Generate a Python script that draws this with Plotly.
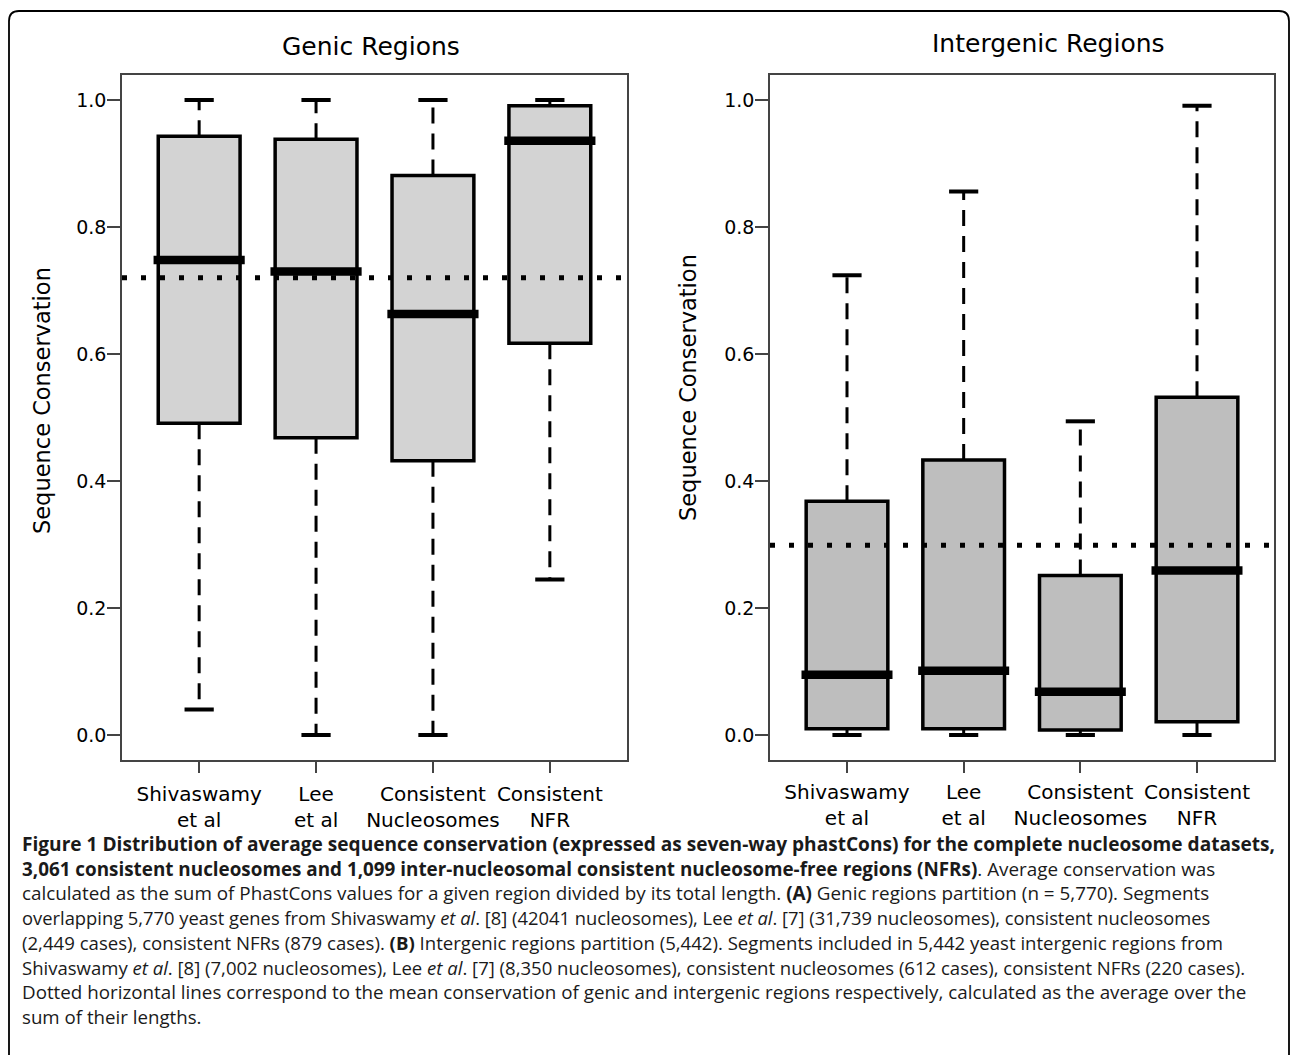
import plotly.graph_objects as go

# ---- data -------------------------------------------------------------
categories = ["Shivaswamy<br>et al", "Lee<br>et al",
              "Consistent<br>Nucleosomes", "Consistent<br>NFR"]
y_ticks = [0.0, 0.2, 0.4, 0.6, 0.8, 1.0]
y_tick_labels = ["0.0", "0.2", "0.4", "0.6", "0.8", "1.0"]

genic_lower = [0.040, 0.000, 0.000, 0.245]
genic_q1 = [0.491, 0.468, 0.432, 0.617]
genic_median = [0.748, 0.730, 0.663, 0.936]
genic_q3 = [0.943, 0.938, 0.881, 0.991]
genic_upper = [1.000, 1.000, 1.000, 1.000]
genic_mean = 0.720

intergenic_lower = [0.000, 0.000, 0.000, 0.000]
intergenic_q1 = [0.010, 0.010, 0.008, 0.021]
intergenic_median = [0.095, 0.101, 0.068, 0.259]
intergenic_q3 = [0.368, 0.433, 0.251, 0.532]
intergenic_upper = [0.724, 0.856, 0.494, 0.991]
intergenic_mean = 0.299

caption_lines = [
    "<b>Figure 1 Distribution of average sequence conservation (expressed as seven-way phastCons) for the complete nucleosome datasets,</b>",
    "<b>3,061 consistent nucleosomes and 1,099 inter-nucleosomal consistent nucleosome-free regions (NFRs)</b>. Average conservation was",
    "calculated as the sum of PhastCons values for a given region divided by its total length. <b>(A)</b> Genic regions partition (n = 5,770). Segments",
    "overlapping 5,770 yeast genes from Shivaswamy <i>et al</i>. [8] (42041 nucleosomes), Lee <i>et al</i>. [7] (31,739 nucleosomes), consistent nucleosomes",
    "(2,449 cases), consistent NFRs (879 cases). <b>(B)</b> Intergenic regions partition (5,442). Segments included in 5,442 yeast intergenic regions from",
    "Shivaswamy <i>et al</i>. [8] (7,002 nucleosomes), Lee <i>et al</i>. [7] (8,350 nucleosomes), consistent nucleosomes (612 cases), consistent NFRs (220 cases).",
    "Dotted horizontal lines correspond to the mean conservation of genic and intergenic regions respectively, calculated as the average over the",
    "sum of their lengths.",
]

# ---- geometry / style ---------------------------------------------------
W, H = 1290, 1055
FONT = "DejaVu Sans"
CAPTION_FONT = "Open Sans"
# per-line type size so each caption line keeps its measure
CAPTION_SIZES = [19.1, 18.85, 18.85, 18.35, 18.6, 18.55, 18.8, 18.7]
BOX_W = 0.70
CAP_HALF = 0.125
MED_HALF = 0.39
FRAME = "#444444"


def fx(p):
    return p / W


def fy(p):
    return 1 - p / H


positions = list(range(1, len(categories) + 1))

panels = [
    dict(title="Genic Regions", lower=genic_lower, q1=genic_q1, median=genic_median,
         q3=genic_q3, upper=genic_upper, mean=genic_mean, fill="#d3d3d3",
         xpix=(122, 627), ax="", title_xy=(371, 46), ylab_xy=(42, 401),
         xlabel_standoff=4),
    dict(title="Intergenic Regions", lower=intergenic_lower, q1=intergenic_q1,
         median=intergenic_median, q3=intergenic_q3, upper=intergenic_upper,
         mean=intergenic_mean, fill="#bebebe",
         xpix=(770, 1274), ax="2", title_xy=(1048, 44), ylab_xy=(688, 388),
         xlabel_standoff=2),
]

fig = go.Figure()
annotations = []
shapes = []

for pnl in panels:
    xa, ya = "x" + pnl["ax"], "y" + pnl["ax"]

    # interquartile boxes
    fig.add_trace(go.Bar(
        x=positions, base=pnl["q1"],
        y=[hi - lo for lo, hi in zip(pnl["q1"], pnl["q3"])],
        width=BOX_W, marker=dict(color=pnl["fill"], line=dict(color="black", width=3.5)),
        xaxis=xa, yaxis=ya, showlegend=False, hoverinfo="skip"))

    # dashed whiskers from the box edges out to the extremes
    wx, wy = [], []
    for p, lo, q1, q3, hi in zip(positions, pnl["lower"], pnl["q1"], pnl["q3"], pnl["upper"]):
        wx += [p, p, None, p, p, None]
        wy += [q3, hi, None, q1, lo, None]
    fig.add_trace(go.Scatter(
        x=wx, y=wy, mode="lines", line=dict(color="black", width=3, dash="16px,10px"),
        xaxis=xa, yaxis=ya, showlegend=False, hoverinfo="skip"))

    # whisker staples
    cx, cy = [], []
    for p, lo, hi in zip(positions, pnl["lower"], pnl["upper"]):
        cx += [p - CAP_HALF, p + CAP_HALF, None, p - CAP_HALF, p + CAP_HALF, None]
        cy += [hi, hi, None, lo, lo, None]
    fig.add_trace(go.Scatter(
        x=cx, y=cy, mode="lines", line=dict(color="black", width=4),
        xaxis=xa, yaxis=ya, showlegend=False, hoverinfo="skip"))

    # heavy median bars
    mx, my = [], []
    for p, m in zip(positions, pnl["median"]):
        mx += [p - MED_HALF, p + MED_HALF, None]
        my += [m, m, None]
    fig.add_trace(go.Scatter(
        x=mx, y=my, mode="lines", line=dict(color="black", width=8.5),
        xaxis=xa, yaxis=ya, showlegend=False, hoverinfo="skip"))

    # dotted mean line across the panel
    shapes.append(dict(type="line", xref=xa + " domain", yref=ya, x0=0, x1=1,
                       y0=pnl["mean"], y1=pnl["mean"],
                       line=dict(color="black", width=5, dash="5px,14px")))

    axis_common = dict(showline=True, mirror=True, linewidth=1.5, linecolor=FRAME,
                       showgrid=False, zeroline=False, ticks="outside",
                       tickwidth=1.5, tickcolor=FRAME)
    fig.update_layout(**{
        "xaxis" + pnl["ax"]: dict(
            domain=[fx(pnl["xpix"][0]), fx(pnl["xpix"][1])], range=[0.34, 4.66],
            tickvals=positions, ticktext=categories, ticklen=11, tickangle=0,
            ticklabelstandoff=pnl["xlabel_standoff"],
            tickfont=dict(family=FONT, size=20, color="black"),
            anchor=ya, **axis_common),
        "yaxis" + pnl["ax"]: dict(
            domain=[fy(760.4), fy(74.6)], range=[-0.04, 1.04],
            tickvals=y_ticks, ticktext=y_tick_labels, ticklen=13,
            ticklabelstandoff=-3,
            tickfont=dict(family=FONT, size=19, color="black"),
            anchor=xa, **axis_common),
    })

    annotations.append(dict(text=pnl["title"], xref="paper", yref="paper",
                            x=fx(pnl["title_xy"][0]), y=fy(pnl["title_xy"][1]),
                            xanchor="center", yanchor="middle", showarrow=False,
                            font=dict(family=FONT, size=25, color="black")))
    annotations.append(dict(text="Sequence Conservation", xref="paper", yref="paper",
                            x=fx(pnl["ylab_xy"][0]), y=fy(pnl["ylab_xy"][1]),
                            xanchor="center", yanchor="middle", showarrow=False,
                            textangle=-90,
                            font=dict(family=FONT, size=22.5, color="black")))

# caption block
for i, (line, size) in enumerate(zip(caption_lines, CAPTION_SIZES)):
    annotations.append(dict(text=line, xref="paper", yref="paper",
                            x=fx(20), y=fy(844 + 24.6 * i),
                            xanchor="left", yanchor="middle", showarrow=False,
                            font=dict(family=CAPTION_FONT, size=size, color="#1a1a1a")))

# rounded outer frame
bx0, bx1, by0, by1, r = 9, 1289, 11, 1070, 10
path = (f"M {fx(bx0)},{fy(by1)} L {fx(bx0)},{fy(by0 + r)} "
        f"Q {fx(bx0)},{fy(by0)} {fx(bx0 + r)},{fy(by0)} "
        f"L {fx(bx1 - r)},{fy(by0)} Q {fx(bx1)},{fy(by0)} {fx(bx1)},{fy(by0 + r)} "
        f"L {fx(bx1)},{fy(by1)}")
shapes.append(dict(type="path", xref="paper", yref="paper", path=path,
                   line=dict(color="black", width=1.8)))

fig.update_layout(
    width=W, height=H, margin=dict(l=0, r=0, t=0, b=0),
    autosize=False,
    paper_bgcolor="white", plot_bgcolor="white",
    showlegend=False, barmode="overlay",
    annotations=annotations, shapes=shapes,
)

page_css = ("document.documentElement.style.overflow='hidden';"
            "document.body.style.overflow='hidden';"
            "document.body.style.margin='0';")
fig.write_html("out.html", config={"responsive": False}, post_script=page_css)
